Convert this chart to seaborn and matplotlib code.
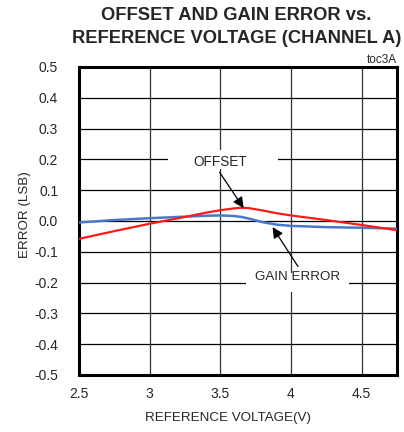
import pandas as pd
import matplotlib
matplotlib.use("Agg")
import matplotlib.pyplot as plt
from matplotlib.patches import Rectangle
import seaborn as sns

# values
vref = [2.5, 2.75, 3.0, 3.25, 3.4, 3.5, 3.6, 3.65, 3.7, 3.8, 3.9, 4.0, 4.25, 4.5, 4.75]
offset = [-0.058, -0.033, -0.009, 0.013, 0.027, 0.035, 0.041, 0.043, 0.042, 0.034, 0.025, 0.018, 0.003, -0.013, -0.030]
gain_error = [-0.005, 0.003, 0.009, 0.014, 0.017, 0.018, 0.016, 0.013, 0.008, -0.004, -0.012, -0.016, -0.020, -0.022, -0.025]

xticks = [2.5, 3, 3.5, 4, 4.5]
xticklabels = ["2.5", "3", "3.5", "4", "4.5"]
yticks = [0.5, 0.4, 0.3, 0.2, 0.1, 0.0, -0.1, -0.2, -0.3, -0.4, -0.5]
yticklabels = ["0.5", "0.4", "0.3", "0.2", "0.1", "0.0", "-0.1", "-0.2", "-0.3", "-0.4", "-0.5"]

sns.set_style("white")
plt.rcParams['font.family'] = ['Liberation Sans', 'DejaVu Sans']

df = pd.DataFrame({"vref": vref, "OFFSET": offset, "GAIN ERROR": gain_error})

fig = plt.figure(figsize=(4.04, 4.32), dpi=100)
ax = fig.add_axes([0.1955, 0.132, 0.787, 0.713])

# grid
for y in yticks[1:-1]:
    ax.axhline(y, color="black", lw=0.9, zorder=1)
for x in xticks[1:]:
    ax.axvline(x, color="#333333", lw=0.9, zorder=1)

sns.lineplot(data=df, x="vref", y="GAIN ERROR", ax=ax, color="#4a78c8", lw=1.8, zorder=3)
sns.lineplot(data=df, x="vref", y="OFFSET", ax=ax, color="#ff1a1a", lw=1.6, zorder=4)

ax.set_xlim(2.5, 4.75)
ax.set_ylim(-0.5, 0.5)
ax.set_xticks(xticks)
ax.set_xticklabels(xticklabels, fontsize=10)
ax.set_yticks(yticks)
ax.set_yticklabels(yticklabels, fontsize=10)
ax.tick_params(axis="y", length=0, pad=15)
ax.tick_params(axis="x", length=0, pad=9)
for s in ax.spines.values():
    s.set_linewidth(2.2)
    s.set_color("black")

ax.set_xlabel("REFERENCE VOLTAGE(V)", fontsize=9.6)
ax.xaxis.set_label_coords(0.47, -0.12)
ax.set_ylabel("ERROR (LSB)", fontsize=9.6)
ax.yaxis.set_label_coords(-0.152, 0.52)

# white gaps in the grid behind the labels
ax.add_patch(Rectangle((3.13, 0.17), 0.78, 0.06, fc="white", ec="none", zorder=2))
ax.add_patch(Rectangle((3.68, -0.23), 0.73, 0.06, fc="white", ec="none", zorder=2))

arrow = dict(arrowstyle="-|>", color="black", lw=0.9, mutation_scale=16,
             shrinkA=0, shrinkB=0)
ax.text(3.5, 0.191, "OFFSET", ha="center", va="center", fontsize=9.8, zorder=5)
ax.annotate("", xy=(3.665, 0.042), xytext=(3.495, 0.158), arrowprops=arrow, zorder=5)
ax.text(4.05, -0.182, "GAIN ERROR", ha="center", va="center", fontsize=9.6, zorder=5)
ax.annotate("", xy=(3.87, -0.02), xytext=(4.05, -0.148), arrowprops=arrow, zorder=5)

fig.text(0.585, 0.965, "OFFSET AND GAIN ERROR vs.", ha="center", va="center",
         fontsize=13.2, fontweight="bold")
fig.text(0.585, 0.912, "REFERENCE VOLTAGE (CHANNEL A)", ha="center", va="center",
         fontsize=13.2, fontweight="bold")
fig.text(0.982, 0.848, "toc3A", ha="right", va="bottom", fontsize=8.5)

fig.savefig("out.png", dpi=100)
